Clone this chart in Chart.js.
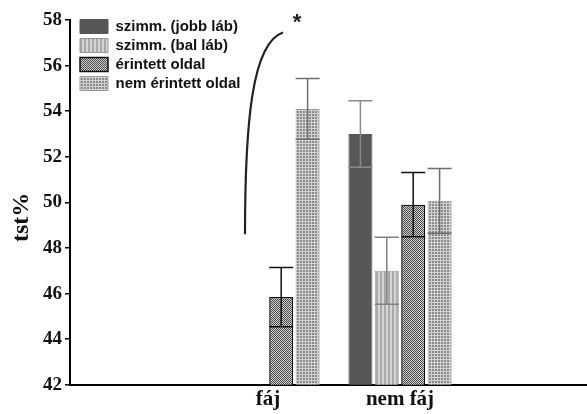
<!DOCTYPE html>
<html>
<head>
<meta charset="utf-8">
<script src="https://cdn.jsdelivr.net/npm/chart.js@4/dist/chart.umd.min.js"></script>
<style>
  html, body { margin: 0; padding: 0; background: #fff; overflow: hidden; }
  #wrap { width: 598px; height: 414px; }
</style>
</head>
<body>
<div id="wrap"><canvas id="mycanvas"></canvas></div>
<script>
// data
var categories = ['', 'fáj', 'nem fáj', ''];
var seriesNames = ['szimm. (jobb láb)', 'szimm. (bal láb)', 'érintett oldal', 'nem érintett oldal'];
var jobb = [null, null, 53.0, null];
var bal = [null, null, 47.0, null];
var erintett = [null, 45.85, 49.9, null];
var nemErintett = [null, 54.1, 50.07, null];
var jobbErr = [null, null, 1.46, null];
var balErr = [null, null, 1.47, null];
var erintettErr = [null, 1.3, 1.41, null];
var nemErintettErr = [null, 1.33, 1.42, null];
var yTicks = [42, 44, 46, 48, 50, 52, 54, 56, 58];

function makePattern(w, h, draw) {
  var c = document.createElement('canvas');
  c.width = w; c.height = h;
  var g = c.getContext('2d');
  draw(g);
  return g.createPattern(c, 'repeat');
}

// vertical stripes
var stripes = makePattern(4, 4, function(g) {
  g.fillStyle = '#d6d6d6'; g.fillRect(0, 0, 4, 4);
  g.fillStyle = '#a8a8a8'; g.fillRect(0, 0, 2, 4);
});
// dense checker
var checker = makePattern(2, 2, function(g) {
  g.fillStyle = '#d0d0d0'; g.fillRect(0, 0, 2, 2);
  g.fillStyle = '#4a4a4a'; g.fillRect(0, 0, 1, 1); g.fillRect(1, 1, 1, 1);
});
// fine grid
var grid = makePattern(3, 3, function(g) {
  g.fillStyle = '#d2d2d2'; g.fillRect(0, 0, 3, 3);
  g.fillStyle = '#8a8a8a'; g.fillRect(0, 0, 2, 2);
});

var errors = [jobbErr, balErr, erintettErr, nemErintettErr];
var errColors = ['#8a8a8a', '#808080', '#111', '#6e6e6e'];

var errorBars = {
  id: 'errorBars',
  afterDatasetsDraw: function(chart) {
    var ctx = chart.ctx;
    var y = chart.scales.y;
    chart.data.datasets.forEach(function(ds, i) {
      var meta = chart.getDatasetMeta(i);
      meta.data.forEach(function(bar, j) {
        var v = ds.data[j];
        var e = errors[i][j];
        if (v == null || e == null) return;
        var top = y.getPixelForValue(v + e);
        var bot = y.getPixelForValue(v - e);
        var half = bar.width / 2;
        ctx.save();
        ctx.strokeStyle = errColors[i];
        ctx.lineWidth = 1.5;
        ctx.beginPath();
        ctx.moveTo(bar.x, top); ctx.lineTo(bar.x, bot);
        ctx.moveTo(bar.x - half, top); ctx.lineTo(bar.x + half, top);
        ctx.moveTo(bar.x - half, bot); ctx.lineTo(bar.x + half, bot);
        ctx.stroke();
        ctx.restore();
      });
    });
  }
};

// significance bracket and star next to the "fáj" group
var sigMark = {
  id: 'sigMark',
  afterDraw: function(chart) {
    var ctx = chart.ctx;
    var x = chart.scales.x, y = chart.scales.y;
    var cx = x.getPixelForValue(1);
    ctx.save();
    ctx.strokeStyle = '#222';
    ctx.lineWidth = 2.2;
    ctx.beginPath();
    ctx.moveTo(cx - 23, y.getPixelForValue(48.6));
    ctx.bezierCurveTo(cx - 23, y.getPixelForValue(53.5), cx - 16, y.getPixelForValue(57.0), cx + 15, y.getPixelForValue(57.45));
    ctx.stroke();
    ctx.fillStyle = '#222';
    ctx.font = 'bold 22px "Liberation Sans", Arial, sans-serif';
    ctx.textAlign = 'center';
    ctx.textBaseline = 'middle';
    ctx.fillText('*', cx + 29, y.getPixelForValue(58) + 3);
    ctx.restore();
  }
};

// nudge the in-plot legend to where it sits in the picture
var legendSpot = {
  id: 'legendSpot',
  afterLayout: function(chart) {
    chart.legend.left = chart.chartArea.left + 6;
    chart.legend.top = chart.chartArea.top - 5;
  }
};

var ctx = document.getElementById('mycanvas');
var myChart = new Chart(ctx, {
  type: 'bar',
  data: {
    labels: categories,
    datasets: [
      { label: seriesNames[0], data: jobb, backgroundColor: '#575757', borderColor: '#575757', borderWidth: 1 },
      { label: seriesNames[1], data: bal, backgroundColor: stripes, borderColor: '#999', borderWidth: 1 },
      { label: seriesNames[2], data: erintett, backgroundColor: checker, borderColor: '#111', borderWidth: 1.5 },
      { label: seriesNames[3], data: nemErintett, backgroundColor: grid, borderColor: '#999', borderWidth: 1 }
    ]
  },
  options: {
    responsive: true,
    maintainAspectRatio: false,
    animation: false,
    layout: { padding: { top: 20, right: 0, left: 0, bottom: 0 } },
    categoryPercentage: 0.8,
    barPercentage: 0.91,
    plugins: {
      tooltip: { enabled: false },
      legend: {
        position: 'chartArea',
        align: 'start',
        labels: {
          boxWidth: 28,
          boxHeight: 14,
          padding: 4,
          color: '#111',
          font: { family: '"Liberation Sans", Arial, sans-serif', size: 15, weight: 'bold' }
        }
      }
    },
    scales: {
      x: {
        grid: { display: false, drawTicks: false },
        border: { color: '#000', width: 2 },
        ticks: {
          color: '#111',
          padding: 2,
          font: { family: '"Liberation Serif", "Times New Roman", serif', size: 21, weight: 'bold' }
        }
      },
      y: {
        min: 42,
        max: 58,
        afterBuildTicks: function(scale) {
          scale.ticks = yTicks.map(function(v) { return { value: v }; });
        },
        afterFit: function(scale) { scale.width = 70; },
        grid: { display: true, drawOnChartArea: false, tickLength: 5, color: '#000', lineWidth: 1.5 },
        border: { color: '#000', width: 2 },
        ticks: {
          color: '#111',
          padding: 3,
          font: { family: '"Liberation Serif", "Times New Roman", serif', size: 19, weight: 'bold' }
        },
        title: {
          display: true,
          // trailing spaces push the rotated title a little below the middle, as in the picture
          text: 'tst%\u00a0\u00a0\u00a0\u00a0\u00a0',
          color: '#111',
          padding: { top: 7, bottom: 0 },
          font: { family: '"Liberation Serif", "Times New Roman", serif', size: 24, weight: 'bold' }
        }
      }
    }
  },
  plugins: [errorBars, sigMark, legendSpot]
});
</script>
</body>
</html>
